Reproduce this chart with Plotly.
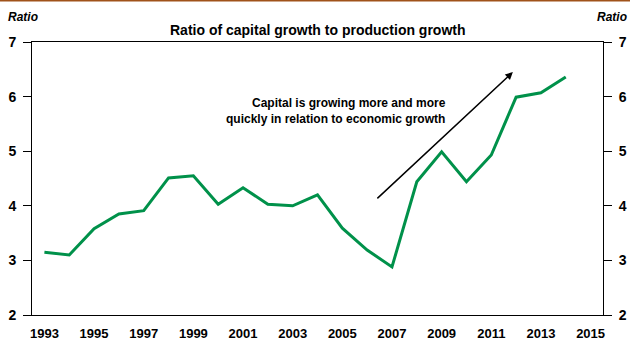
import plotly.graph_objects as go

years = list(range(1993, 2015))
ratio = [3.15, 3.10, 3.58, 3.85, 3.91, 4.51, 4.55, 4.03, 4.33, 4.03, 4.00,
         4.20, 3.59, 3.19, 2.88, 4.44, 4.99, 4.44, 4.93, 5.99, 6.07, 6.36]
tick_years = list(range(1993, 2016, 2))
y_ticks = [2, 3, 4, 5, 6, 7]

font = "Liberation Sans, Arial, sans-serif"

fig = go.Figure()
fig.add_trace(go.Scatter(x=years, y=ratio, mode="lines",
                         line=dict(color="#00914a", width=3), hoverinfo="skip"))
# invisible trace to activate the mirrored right axis
fig.add_trace(go.Scatter(x=[years[0]], y=[ratio[0]], yaxis="y2", mode="lines",
                         line=dict(width=0), showlegend=False, hoverinfo="skip"))

axis_common = dict(showgrid=False, zeroline=False, showline=True, linecolor="black",
                   linewidth=1, ticks="outside", ticklen=8, tickcolor="black",
                   automargin=False, ticklabelstandoff=4,
                   tickfont=dict(family=font, size=14, color="black", weight="bold"))

fig.update_layout(
    width=630, height=342,
    margin=dict(l=32, r=27, t=42, b=27, autoexpand=False),
    paper_bgcolor="white", plot_bgcolor="white",
    showlegend=False,
    xaxis=dict(range=[1992.5, 2015.5], tickvals=tick_years, ticks="", ticklen=0,
               showline=True, linecolor="black", linewidth=1, showgrid=False,
               zeroline=False, mirror=True, automargin=False, ticklabelstandoff=6,
               tickfont=dict(family=font, size=13, color="black", weight="bold")),
    yaxis=dict(range=[2, 7], tickvals=y_ticks, **axis_common),
    yaxis2=dict(range=[2, 7], tickvals=y_ticks, overlaying="y", side="right",
                **axis_common),
    shapes=[dict(type="line", xref="paper", yref="paper", x0=-0.06, x1=1.05,
                 y0=1.152, y1=1.152, line=dict(color="#a0521a", width=2))],
    annotations=[
        dict(text="Ratio of capital growth to production growth", xref="paper",
             yref="paper", x=0.5, y=1.0, yanchor="bottom", yshift=2, showarrow=False,
             font=dict(family=font, size=14, color="black", weight="bold")),
        dict(text="<i>Ratio</i>", xref="paper", yref="paper", x=-0.045, y=1.09,
             xanchor="left", yanchor="middle", showarrow=False,
             font=dict(family=font, size=12, color="black", weight="bold")),
        dict(text="<i>Ratio</i>", xref="paper", yref="paper", x=1.045, y=1.09,
             xanchor="right", yanchor="middle", showarrow=False,
             font=dict(family=font, size=12, color="black", weight="bold")),
        dict(text="Capital is growing more and more<br>quickly in relation to economic growth",
             x=2009.25, y=5.73, xanchor="right", yanchor="middle", align="right",
             showarrow=False,
             font=dict(family=font, size=12, color="black", weight="bold")),
        dict(x=2011.87, y=6.45, ax=2006.35, ay=4.11, xref="x", yref="y",
             axref="x", ayref="y", text="", showarrow=True, arrowhead=2,
             arrowsize=1, arrowwidth=1.5, arrowcolor="black"),
    ],
)

fig.write_html("out.html")
